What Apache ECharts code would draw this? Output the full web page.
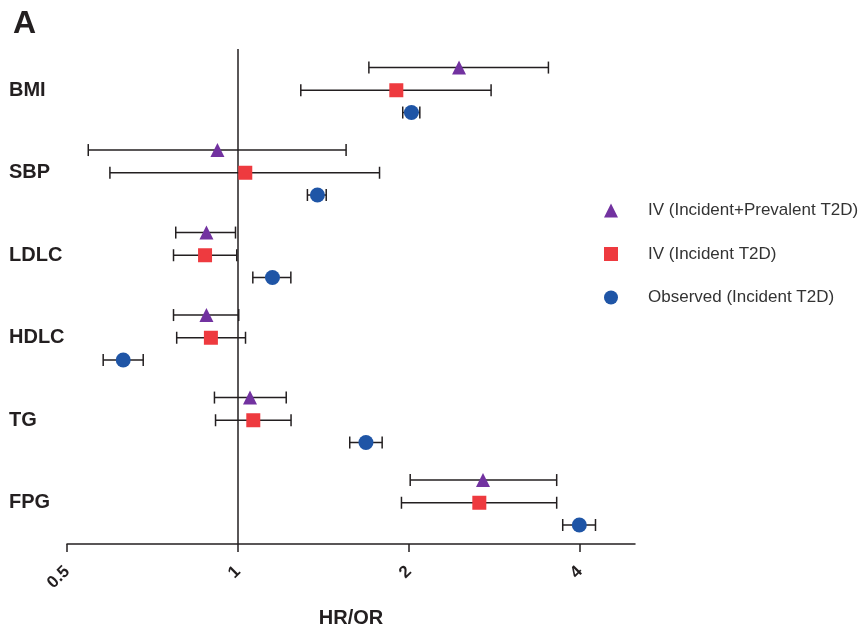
<!DOCTYPE html>
<html><head><meta charset="utf-8">
<script src="https://cdn.jsdelivr.net/npm/echarts@6/dist/echarts.min.js"></script>
<style>html,body{margin:0;padding:0;background:#fff}#c{width:864px;height:628px}</style>
</head><body><div id="c"></div>
<script>
const categories = ['BMI','SBP','LDLC','HDLC','TG','FPG'];
const tickValues = [0.5, 1, 2, 4];
// IV (Incident+Prevalent T2D)
const ivAllEst = [2.45, 0.92, 0.88, 0.88, 1.05, 2.70];
const ivAllLo  = [1.70, 0.545, 0.777, 0.77, 0.909, 2.01];
const ivAllHi  = [3.52, 1.55, 0.99, 1.003, 1.216, 3.64];
// IV (Incident T2D)
const ivIncEst = [1.90, 1.03, 0.875, 0.896, 1.064, 2.66];
const ivIncLo  = [1.29, 0.595, 0.77, 0.78, 0.913, 1.94];
const ivIncHi  = [2.79, 1.775, 0.995, 1.031, 1.24, 3.64];
// Observed (Incident T2D)
const obsEst = [2.02, 1.38, 1.15, 0.628, 1.68, 3.99];
const obsLo  = [1.95, 1.325, 1.062, 0.579, 1.573, 3.73];
const obsHi  = [2.09, 1.43, 1.239, 0.681, 1.794, 4.26];
const axisMax = 5;

const groups = [
  {name:'IV (Incident+Prevalent T2D)', est:ivAllEst, lo:ivAllLo, hi:ivAllHi, symbol:'triangle', color:'#7232A0', size:14, off:-0.275},
  {name:'IV (Incident T2D)', est:ivIncEst, lo:ivIncLo, hi:ivIncHi, symbol:'rect', color:'#EE3A3F', size:14, off:0},
  {name:'Observed (Incident T2D)', est:obsEst, lo:obsLo, hi:obsHi, symbol:'circle', color:'#1F55A6', size:15, off:0.27}
];
const L2 = Math.log2;
const ink = '#231F20';
const font = '"Liberation Sans", Arial, Helvetica, sans-serif';

const series = [];
groups.forEach(g => {
  series.push({
    type:'custom', yAxisIndex:1, silent:true, z:2,
    data: categories.map((c,i) => [L2(g.lo[i]), L2(g.hi[i]), i + g.off]),
    encode:{x:[0,1], y:2},
    renderItem:(params, api) => {
      const p1 = api.coord([api.value(0), api.value(2)]);
      const p2 = api.coord([api.value(1), api.value(2)]);
      const h = 6;
      const st = {stroke:ink, lineWidth:1.5};
      return {type:'group', children:[
        {type:'line', shape:{x1:p1[0], y1:p1[1], x2:p2[0], y2:p2[1]}, style:st},
        {type:'line', shape:{x1:p1[0], y1:p1[1]-h, x2:p1[0], y2:p1[1]+h}, style:st},
        {type:'line', shape:{x1:p2[0], y1:p2[1]-h, x2:p2[0], y2:p2[1]+h}, style:st}
      ]};
    }
  });
});
groups.forEach((g, k) => {
  const s = {
    type:'scatter', name:g.name, yAxisIndex:1, z:5,
    symbol:g.symbol, symbolSize:g.size,
    itemStyle:{color:g.color, opacity:1},
    data: categories.map((c,i) => [L2(g.est[i]), i + g.off])
  };
  if (k === 0) {
    s.markLine = {silent:true, symbol:'none', label:{show:false},
      lineStyle:{color:ink, width:1.5, type:'solid'},
      data:[{xAxis: L2(1)}]};
  }
  series.push(s);
});

const chart = echarts.init(document.getElementById('c'), null, {renderer:'canvas'});
chart.setOption({
  animation:false,
  backgroundColor:'#fff',
  textStyle:{fontFamily:font},
  title:{text:'A', left:8, top:3, textStyle:{fontSize:32, fontWeight:'bold', color:ink, fontFamily:font}},
  grid:{left:67, right:229, top:49, bottom:84, containLabel:false, outerBoundsMode:'none'},
  legend:{
    orient:'vertical', left:599, top:197, itemWidth:14, itemHeight:14, itemGap:26.5,
    data: groups.map(g => g.name),
    textStyle:{fontSize:17, color:'#333', fontFamily:font, padding:[0,0,0,25]}
  },
  xAxis:{
    type:'value', min:L2(tickValues[0]), max:L2(axisMax), interval:1,
    name:'HR/OR', nameLocation:'middle', nameGap:64,
    nameTextStyle:{fontSize:20, fontWeight:'bold', color:ink, fontFamily:font},
    axisLine:{show:true, onZero:false, lineStyle:{color:ink, width:1.5}},
    axisTick:{show:true, length:8, lineStyle:{color:ink, width:1.5}, customValues: tickValues.map(L2)},
    axisLabel:{rotate:45, fontSize:17, fontWeight:'bold', color:ink, margin:25, fontFamily:font,
      customValues: tickValues.map(L2),
      formatter: v => String(+Math.pow(2, v).toFixed(2))},
    splitLine:{show:false}
  },
  yAxis:[
    {type:'category', data:categories, inverse:true, boundaryGap:true,
     axisLine:{show:false}, axisTick:{show:false}, splitLine:{show:false},
     axisLabel:{align:'left', margin:58, fontSize:20, fontWeight:'bold', color:ink, fontFamily:font, padding:[3,0,0,0]}},
    {type:'value', min:-0.5, max:5.5, inverse:true, show:false, splitLine:{show:false}}
  ],
  series: series
});
</script></body></html>
